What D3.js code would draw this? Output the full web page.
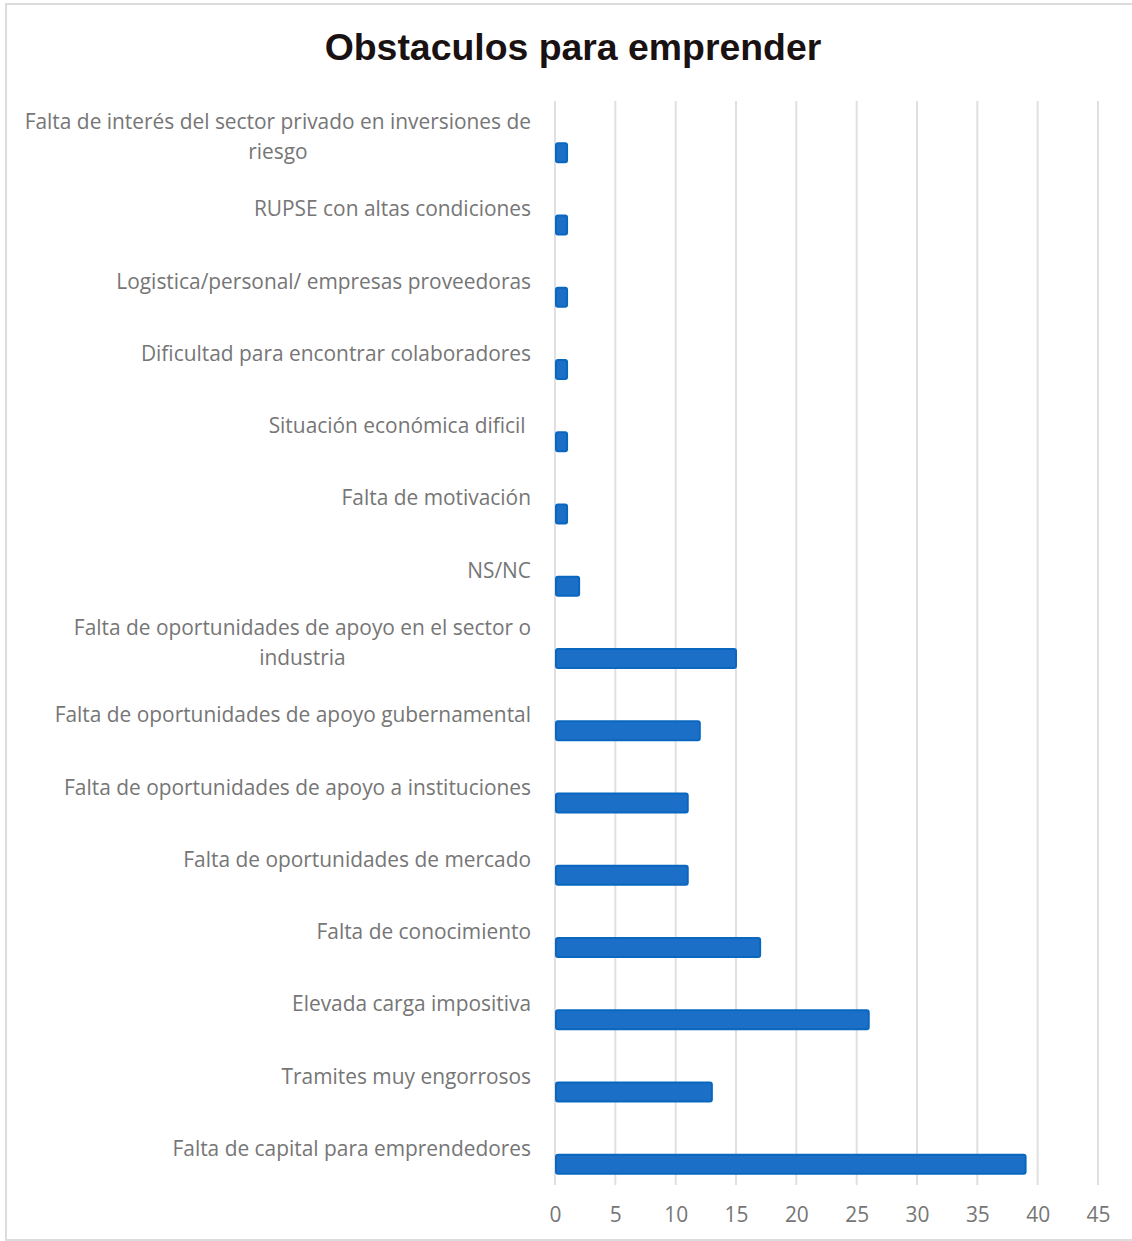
<!DOCTYPE html>
<head>
    <meta charset="utf-8" />
    <script src="https://d3js.org/d3.v7.min.js"></script>
    <style>
        body { margin: 0; background: #fff; }
        .lbl { font-family: "Open Sans", sans-serif; font-size: 20.9px; fill: #767676; white-space: pre; }
        .tick text { font-family: "Open Sans", sans-serif; font-size: 20.9px; fill: #767676; }
    </style>
</head>
<body>
<script>
    var categorias = [
        "Falta de interés del sector privado en inversiones de riesgo",
        "RUPSE con altas condiciones",
        "Logistica/personal/ empresas proveedoras",
        "Dificultad para encontrar colaboradores",
        "Situación económica dificil ",
        "Falta de motivación",
        "NS/NC",
        "Falta de oportunidades de apoyo en el sector o industria",
        "Falta de oportunidades de apoyo gubernamental",
        "Falta de oportunidades de apoyo a instituciones",
        "Falta de oportunidades de mercado",
        "Falta de conocimiento",
        "Elevada carga impositiva",
        "Tramites muy engorrosos",
        "Falta de capital para emprendedores"
    ];
    var valores = [1, 1, 1, 1, 1, 1, 2, 15, 12, 11, 11, 17, 26, 13, 39];
    var ticks = [0, 5, 10, 15, 20, 25, 30, 35, 40, 45];

    var width = 1132, height = 1241;
    var svg = d3.select("body").append("svg")
        .attr("width", width).attr("height", height);

    // marco del grafico
    svg.append("rect")
        .attr("x", 6).attr("y", 4)
        .attr("width", 1140).attr("height", 1236)
        .attr("fill", "#fff").attr("stroke", "#dcdcdc").attr("stroke-width", 2);

    svg.append("text")
        .attr("x", 573).attr("y", 60)
        .attr("text-anchor", "middle")
        .style("font-family", "'Liberation Sans', Arial, sans-serif")
        .style("font-weight", "bold")
        .style("font-size", "37.4px")
        .style("fill", "#1a1212")
        .text("Obstaculos para emprender");

    var x = d3.scaleLinear().domain([0, 45]).range([555, 1098]);
    var y = d3.scaleBand().domain(categorias).range([101, 1185]);

    // lineas de cuadricula
    svg.append("g").selectAll("line")
        .data(ticks)
        .join("line")
        .attr("x1", d => x(d)).attr("x2", d => x(d))
        .attr("y1", 101).attr("y2", 1185)
        .attr("stroke", "#e0e0e4").attr("stroke-width", 2);

    var eje = svg.append("g")
        .attr("transform", "translate(0,1185)")
        .call(d3.axisBottom(x).tickValues(ticks).tickSize(0).tickPadding(22));
    eje.select(".domain").remove();

    // barras
    svg.append("g").selectAll("rect")
        .data(valores)
        .join("rect")
        .attr("x", x(0) + 1)
        .attr("y", (d, i) => y(categorias[i]) + y.bandwidth() / 2 + 6)
        .attr("width", d => x(d) - x(0) - 1)
        .attr("height", 19)
        .attr("rx", 2)
        .attr("fill", "#1c6fc7")
        .attr("stroke", "#0a67bf")
        .attr("stroke-width", 2);

    // etiquetas con salto de linea
    var lineH = 30, maxW = 520;
    categorias.forEach(function (c) {
        var t = svg.append("text").attr("class", "lbl").attr("text-anchor", "end");
        var palabras = c.split(" "), lineas = [], actual = "";
        var tmp = svg.append("text").attr("class", "lbl");
        palabras.forEach(function (p) {
            var prueba = actual ? actual + " " + p : p;
            tmp.text(prueba);
            if (actual && tmp.node().getComputedTextLength() > maxW) {
                lineas.push(actual);
                actual = p;
            } else {
                actual = prueba;
            }
        });
        lineas.push(actual);
        tmp.remove();
        var cy = y(c) + y.bandwidth() / 2 - (lineas.length - 1) * lineH / 2;
        lineas.forEach(function (l, k) {
            t.append("tspan")
                .attr("x", 531)
                .attr("y", cy + k * lineH + 7)
                .text(l);
        });
        if (lineas.length > 1) {
            // las lineas se centran respecto a la mas larga
            var w0 = t.select("tspan").node().getComputedTextLength();
            t.attr("text-anchor", "middle");
            t.selectAll("tspan").attr("x", 531 - w0 / 2);
        }
    });
</script>
</body>
